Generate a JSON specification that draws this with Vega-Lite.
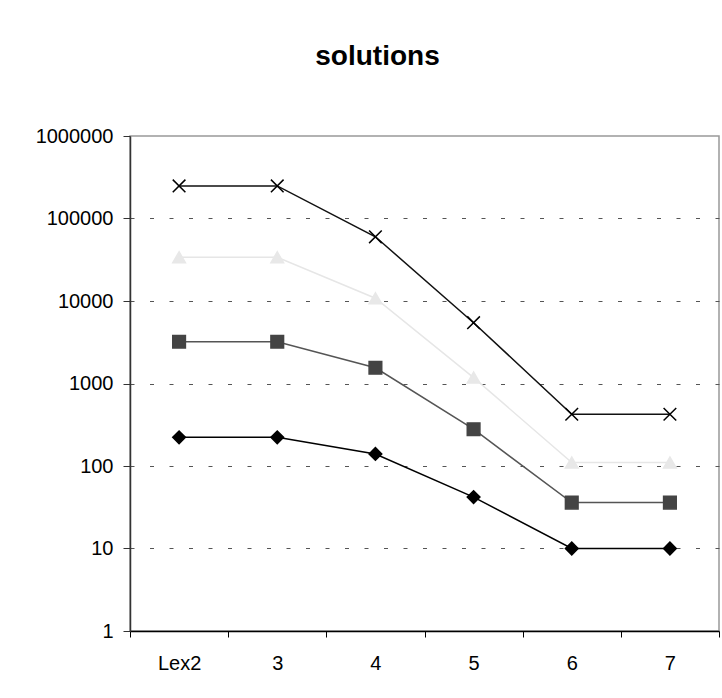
{
  "$schema": "https://vega.github.io/schema/vega-lite/v6.json",
  "autosize": {"type": "none"},
  "padding": {"left": 130, "top": 136, "right": 3, "bottom": 67},
  "width": 589,
  "height": 495,
  "background": "white",
  "config": {
    "view": {"stroke": "#999999", "strokeWidth": 1.5},
    "font": "Liberation Sans"
  },
  "title": {
    "text": "solutions",
    "fontSize": 28,
    "fontWeight": "bold",
    "font": "Liberation Sans",
    "color": "black",
    "anchor": "middle",
    "frame": "group",
    "baseline": "alphabetic",
    "offset": 33,
    "dx": -47
  },
  "data": {
    "values": [
      {"step": "Lex2", "series": "d", "solutions": 223},
      {"step": "3", "series": "d", "solutions": 223},
      {"step": "4", "series": "d", "solutions": 140},
      {"step": "5", "series": "d", "solutions": 42},
      {"step": "6", "series": "d", "solutions": 10},
      {"step": "7", "series": "d", "solutions": 10},
      {"step": "Lex2", "series": "s", "solutions": 3210},
      {"step": "3", "series": "s", "solutions": 3210},
      {"step": "4", "series": "s", "solutions": 1550},
      {"step": "5", "series": "s", "solutions": 279},
      {"step": "6", "series": "s", "solutions": 36},
      {"step": "7", "series": "s", "solutions": 36},
      {"step": "Lex2", "series": "t", "solutions": 33900},
      {"step": "3", "series": "t", "solutions": 33900},
      {"step": "4", "series": "t", "solutions": 10800},
      {"step": "5", "series": "t", "solutions": 1180},
      {"step": "6", "series": "t", "solutions": 110},
      {"step": "7", "series": "t", "solutions": 110},
      {"step": "Lex2", "series": "x", "solutions": 248000},
      {"step": "3", "series": "x", "solutions": 248000},
      {"step": "4", "series": "x", "solutions": 60000},
      {"step": "5", "series": "x", "solutions": 5460},
      {"step": "6", "series": "x", "solutions": 424},
      {"step": "7", "series": "x", "solutions": 424}
    ]
  },
  "encoding": {
    "x": {
      "field": "step",
      "type": "nominal",
      "sort": ["Lex2", "3", "4", "5", "6", "7"],
      "scale": {"paddingInner": 0, "paddingOuter": 0},
      "axis": {
        "title": null,
        "labelAngle": 0,
        "labelFontSize": 20,
        "labelColor": "black",
        "labelPadding": 16,
        "tickBand": "extent",
        "tickSize": 6,
        "tickColor": "black",
        "domainColor": "black",
        "domainWidth": 1.5,
        "grid": false
      }
    },
    "y": {
      "field": "solutions",
      "type": "quantitative",
      "scale": {"type": "log", "domain": [1, 1000000], "nice": false},
      "axis": {
        "title": null,
        "values": [1, 10, 100, 1000, 10000, 100000, 1000000],
        "format": "d",
        "labelFontSize": 20,
        "labelColor": "black",
        "labelPadding": 10,
        "tickSize": 7,
        "tickColor": "#333333",
        "domainColor": "#333333",
        "domainWidth": 1.5,
        "grid": true,
        "gridColor": "#555555",
        "gridDash": [4, 15.5],
        "gridOpacity": {"condition": {"test": "datum.value == 1 || datum.value == 1000000", "value": 0}, "value": 1}
      }
    }
  },
  "layer": [
    {
      "mark": {"type": "line"},
      "encoding": {
        "color": {
          "field": "series",
          "type": "nominal",
          "scale": {"domain": ["d", "s", "t", "x"], "range": ["#000000", "#555555", "#e6e6e6", "#111111"]},
          "legend": null
        },
        "strokeWidth": {
          "field": "series",
          "type": "nominal",
          "scale": {"domain": ["d", "s", "t", "x"], "range": [1.5, 1.5, 1.5, 1.3]},
          "legend": null
        },
        "detail": {"field": "series"}
      }
    },
    {
      "mark": {"type": "point", "filled": true, "opacity": 1},
      "encoding": {
        "fill": {
          "field": "series",
          "type": "nominal",
          "scale": {"domain": ["d", "s", "t", "x"], "range": ["#000000", "#444444", "#e8e8e8", "#000000"]},
          "legend": null
        },
        "stroke": {
          "field": "series",
          "type": "nominal",
          "scale": {"domain": ["d", "s", "t", "x"], "range": ["#000000", "#444444", "#e8e8e8", "#000000"]},
          "legend": null
        },
        "strokeWidth": {
          "field": "series",
          "type": "nominal",
          "scale": {"domain": ["d", "s", "t", "x"], "range": [0.5, 0.5, 0.5, 1.3]},
          "legend": null
        },
        "shape": {
          "field": "series",
          "type": "nominal",
          "scale": {"domain": ["d", "s", "t", "x"], "range": ["diamond", "square", "triangle-up", "M-1,-1L1,1M-1,1L1,-1"]},
          "legend": null
        },
        "size": {
          "field": "series",
          "type": "nominal",
          "scale": {"domain": ["d", "s", "t", "x"], "range": [160, 160, 190, 160]},
          "legend": null
        }
      }
    }
  ]
}
